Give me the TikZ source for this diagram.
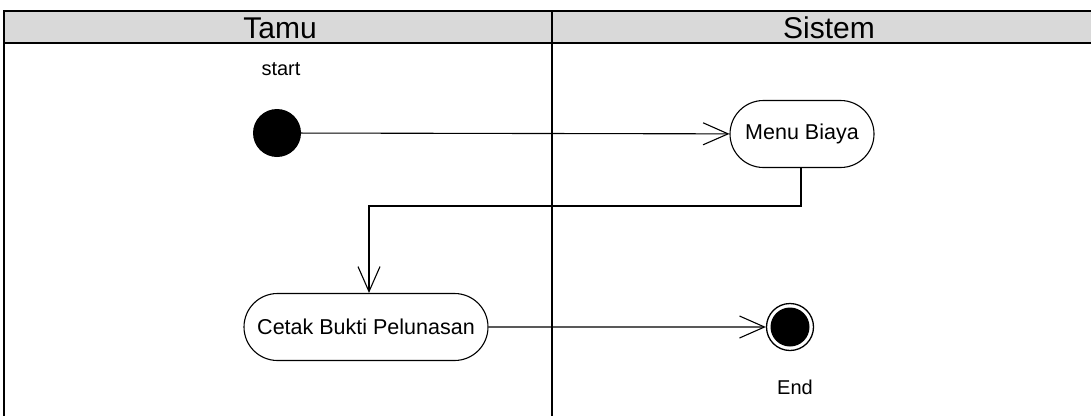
\documentclass[tikz,border=0pt]{standalone}
\usepackage{fontspec}
\setmainfont{Liberation Sans}
\usetikzlibrary{shapes.misc,arrows.meta}
\definecolor{headgray}{RGB}{217,217,217}
\begin{document}
\begin{tikzpicture}[x=1pt,y=-1pt,
  lane/.style={line width=2pt},
  flow/.style={line width=1.1pt,-{Straight Barb[length=25pt,width=22pt,line width=1.1pt]}},
  activity/.style={draw,line width=1.1pt,rounded rectangle,minimum height=67pt,inner sep=0pt,font=\fontsize{21.5}{25}\selectfont},
  lbl/.style={font=\fontsize{20}{24}\selectfont,inner sep=0pt},
  head/.style={font=\fontsize{30}{34}\selectfont}]
\useasboundingbox (0,0) rectangle (1091,415);
\begin{scope}
  \clip (0,0) rectangle (1091,415);
  % swimlane header and frame
  \fill[headgray] (4,11) rectangle (1100,43);
  \draw[lane] (4,11) rectangle (1100,430);
  \draw[lane] (4,43) -- (1100,43);
  \draw[lane] (552,11) -- (552,430);
\end{scope}
\node[head] (tamu) at (280,28) {Tamu};
\node[head] (sistem) at (829,28) {Sistem};
% initial node
\node[circle,fill=black,minimum size=48pt,inner sep=0pt] (start) at (277,133) {};
\node[lbl] (startlbl) at (281,69) {start};
% activities
\node[activity,minimum width=144pt] (menu) at (802,134) {Menu Biaya};
\node[activity,minimum width=244pt] (cetak) at (366,327) {Cetak Bukti Pelunasan};
% final node
\node[circle,draw,line width=1.3pt,minimum size=47pt,inner sep=0pt] (end) at (790,327) {};
\fill (end.center) circle (19.5pt);
\node[lbl] (endlbl) at (795,387) {End};
% flows
\coordinate (bend) at (369,206);
\draw[flow] (start) -- (menu);
\draw[flow] (menu.south -| 801,0) |- (bend) -- (bend |- cetak.north);
\draw[flow] (cetak) -- (end);
\end{tikzpicture}
\end{document}
